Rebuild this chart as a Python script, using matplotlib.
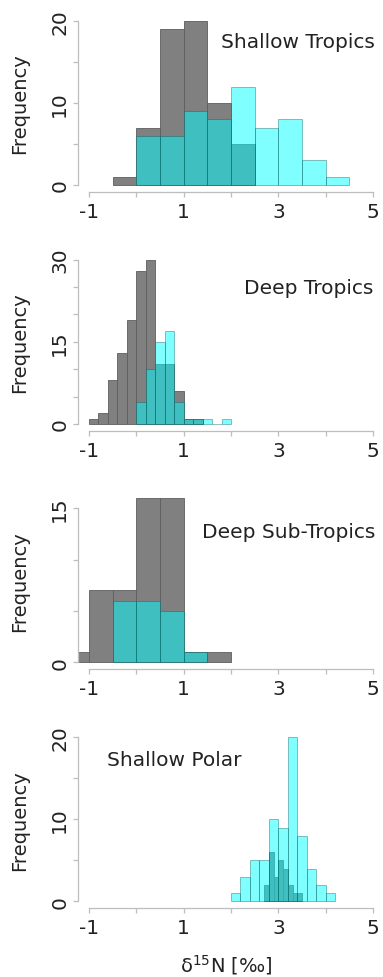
import matplotlib
matplotlib.use("Agg")
import matplotlib.pyplot as plt
import numpy as np

plt.rcParams['font.family'] = ['DejaVu Sans']

# ---------------- data ----------------
panel_names = ["Shallow Tropics", "Deep Tropics", "Deep Sub-Tropics", "Shallow Polar"]

# Shallow Tropics
st_gray_start, st_gray_width = -0.5, 0.5
st_gray_counts = [1, 7, 19, 20, 10, 5]
st_cyan_start, st_cyan_width = 0.0, 0.5
st_cyan_counts = [6, 6, 9, 8, 12, 7, 8, 3, 1]

# Deep Tropics
dt_gray_start, dt_gray_width = -1.0, 0.2
dt_gray_counts = [1, 2, 8, 13, 19, 28, 30, 11, 11, 6, 1, 1]
dt_cyan_start, dt_cyan_width = 0.0, 0.2
dt_cyan_counts = [4, 10, 15, 17, 4, 1, 1, 1, 0, 1]

# Deep Sub-Tropics
ds_gray_start, ds_gray_width = -1.5, 0.5
ds_gray_counts = [1, 7, 7, 16, 16, 1, 1]
ds_cyan_start, ds_cyan_width = -0.5, 0.5
ds_cyan_counts = [6, 6, 5, 1]

# Shallow Polar
sp_gray_start, sp_gray_width = 2.7, 0.1
sp_gray_counts = [2, 6, 3, 5, 4, 2, 1, 1]
sp_cyan_start, sp_cyan_width = 2.0, 0.2
sp_cyan_counts = [1, 3, 5, 5, 10, 9, 20, 8, 4, 2, 1]

x_ticks = [-1, 0, 1, 2, 3, 4, 5]
x_ticklabels = ["-1", "", "1", "", "3", "", "5"]

y_ticks = [[0, 5, 10, 15, 20], [0, 5, 10, 15, 20, 25, 30], [0, 5, 10, 15], [0, 5, 10, 15, 20]]
y_ticklabels = [["0", "", "10", "", "20"], ["0", "", "", "15", "", "", "30"],
                ["0", "", "", "15"], ["0", "", "10", "", "20"]]
y_max = [20, 30, 16, 20]

panels = [
    (st_gray_start, st_gray_width, st_gray_counts, st_cyan_start, st_cyan_width, st_cyan_counts),
    (dt_gray_start, dt_gray_width, dt_gray_counts, dt_cyan_start, dt_cyan_width, dt_cyan_counts),
    (ds_gray_start, ds_gray_width, ds_gray_counts, ds_cyan_start, ds_cyan_width, ds_cyan_counts),
    (sp_gray_start, sp_gray_width, sp_gray_counts, sp_cyan_start, sp_cyan_width, sp_cyan_counts),
]

# ---------------- layout ----------------
W, H = 383, 978
fig = plt.figure(figsize=(W / 100, H / 100), dpi=100)

left_px, right_px = 77.6, 384.4
panel_px = [(15.4, 192.6), (254.1, 431.6), (492.4, 669.9), (731.7, 908.9)]
label_pos = [
    (375, 42.7, 'right'),
    (373, 288.0, 'right'),
    (375, 532.7, 'right'),
    (107, 760.7, 'left'),
]

axis_col = '#bdbdbd'
text_col = '#222222'
gray_face = '#808080'
gray_edge = '#5e5e5e'
cyan_face = (0.0, 1.0, 1.0, 0.5)
cyan_edge = (0.0, 0.35, 0.35, 0.45)

for i, (gs, gw, gc, cs, cw, cc) in enumerate(panels):
    top, bot = panel_px[i]
    ax = fig.add_axes([left_px / W, 1 - bot / H, (right_px - left_px) / W, (bot - top) / H])
    gx = gs + gw * np.arange(len(gc))
    cx = cs + cw * np.arange(len(cc))
    ax.bar(gx, gc, width=gw, align='edge', color=gray_face, edgecolor=gray_edge, linewidth=0.6, zorder=2)
    ax.bar(cx, cc, width=cw, align='edge', color=cyan_face, edgecolor=cyan_edge, linewidth=0.6, zorder=3)

    ax.set_xlim(-1.24, 5.24)
    ym = y_max[i]
    ax.set_ylim(-0.04 * ym, ym * 1.04)

    for s in ['top', 'right']:
        ax.spines[s].set_visible(False)
    ax.spines['left'].set_bounds(0, y_ticks[i][-1])
    ax.spines['bottom'].set_bounds(-1, 5)
    for s in ['left', 'bottom']:
        ax.spines[s].set_color(axis_col)
        ax.spines[s].set_linewidth(0.9)

    ax.set_xticks(x_ticks)
    ax.set_xticklabels(x_ticklabels)
    ax.set_yticks(y_ticks[i])
    ax.set_yticklabels(y_ticklabels[i], rotation=90, va='center')
    ax.tick_params(axis='both', colors=axis_col, labelcolor=text_col, labelsize=14.5,
                   length=3.5, width=0.9, pad=2.5)
    ax.tick_params(axis='x', pad=4)
    ax.patch.set_alpha(0)

    fig.text(20 / W, 1 - (top + bot) / 2 / H, "Frequency", rotation=90, ha='center', va='center',
             fontsize=14, color=text_col)
    lx, ly, ha = label_pos[i]
    fig.text(lx / W, 1 - ly / H, panel_names[i], ha=ha, va='center', fontsize=14.5, color=text_col)

fig.text(226 / W, 1 - 965 / H, r"δ$^{15}$N [‰]", ha='center', va='center', fontsize=14, color=text_col)

fig.savefig("out.png", dpi=100)
